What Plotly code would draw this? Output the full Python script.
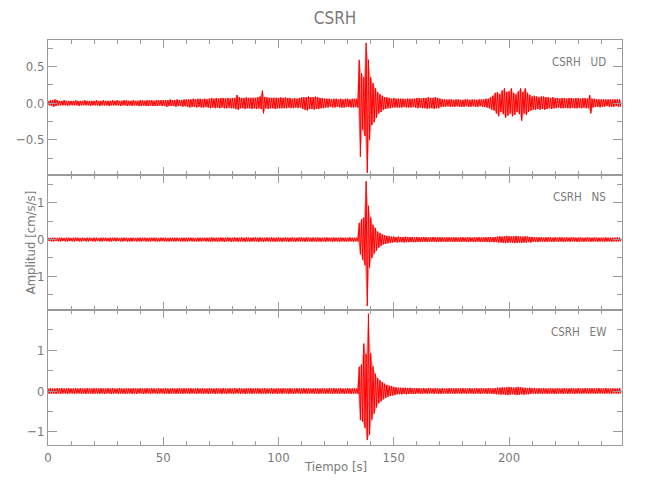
import numpy as np
import plotly.graph_objects as go
from plotly.subplots import make_subplots

# Seismogram envelopes, one value per second (t = 0..248 s),
# in hundredths of cm/s/s: positive peak (up) and negative peak (dn) within each second.
seconds = list(range(249))

ud_up = [3,4,4,5,4,3,3,4,3,3, 3,3,4,3,3,3,4,3,3,3, 3,4,3,3,4,3,3,3,4,3, 4,3,3,4,4,3,3,4,3,3,
         4,4,3,4,4,4,3,4,4,4, 4,4,4,5,4,4,5,4,4,5, 5,5,5,6,5,6,6,5,6,5, 6,7,6,7,6,7,7,6,7,6,
         7,7,11,8,7,7,8,7,7,7, 7,8,9,17,8,8,7,7,7,7, 7,8,7,8,7,7,6,7,6,7, 8,8,8,9,8,8,9,8,7,7,
         6,6,6,5,6,6,5,6,5,6, 6,5,6,6,6,59,41,35,82,59, 35,27,20,15,12,10,8,8,7,6,
         7,6,6,6,6,5,6,6,6,6, 7,7,6,7,7,8,7,7,8,7, 6,5,5,5,5,5,4,5,5,4, 4,5,5,4,5,5,4,5,5,5,
         6,6,8,10,14,15,12,17,20,15, 16,20,14,12,16,20,15,20,14,11, 9,10,9,8,9,9,8,8,7,8,
         7,7,6,7,7,6,7,7,6,7, 7,6,7,7,6,11,6,6,5,5, 5,5,5,5,5,5,5,5,5]
ud_dn = [3,4,5,4,3,3,3,3,4,3, 3,3,3,4,3,3,3,3,4,3, 3,3,4,3,3,3,4,3,3,3, 3,4,3,3,4,3,4,3,3,4,
         4,3,4,4,3,4,4,4,3,4, 4,5,4,4,4,5,4,4,5,4, 5,6,5,5,6,5,6,6,5,6, 7,6,7,6,7,6,7,7,6,7,
         7,8,9,7,7,8,7,7,8,7, 8,7,8,14,7,8,7,7,8,7, 7,7,7,7,6,7,7,6,7,6, 8,9,10,8,8,9,8,8,7,7,
         6,6,5,6,6,5,6,6,6,5, 5,6,6,5,6,73,36,45,95,50, 30,26,20,14,12,9,8,7,7,6,
         6,6,6,6,5,6,6,6,5,6, 7,6,7,7,8,7,7,8,7,7, 5,5,5,4,5,5,5,4,5,5, 5,4,5,5,4,5,5,4,5,5,
         6,7,9,10,14,18,12,15,20,17, 14,18,16,12,15,24,14,16,12,10, 9,9,8,9,8,9,8,7,8,7,
         7,6,7,7,6,7,7,6,7,7, 6,7,6,7,7,14,6,5,5,6, 5,5,4,5,5,5,4,5,5]

ns_up = [5,4,5,5,4,5,5,4,5,5, 4,5,5,5,4,5,4,5,5,4, 5,5,4,5,5,5,4,5,5,5, 5,4,5,5,5,4,5,5,4,5,
         5,5,5,4,5,5,5,5,4,5, 5,5,4,5,5,5,5,4,5,5, 5,5,5,5,4,5,5,5,5,5, 5,6,5,5,5,6,5,5,6,5,
         5,6,5,5,6,5,6,5,5,6, 6,5,6,5,5,6,5,6,5,5, 6,5,5,6,5,5,6,5,5,6, 6,5,6,6,5,6,5,6,5,5,
         5,6,5,5,6,5,5,6,5,5, 5,6,5,5,5,45,55,60,159,92, 60,40,32,22,18,14,12,10,9,8,
         8,7,8,7,7,8,7,7,7,6, 7,6,6,7,6,6,6,7,6,6, 6,6,5,6,6,5,6,6,5,6, 6,5,6,6,5,6,6,6,5,6,
         6,6,7,6,7,8,9,8,9,10, 9,8,9,10,9,8,8,9,8,7, 7,6,6,6,6,5,6,6,6,5,
         6,5,6,6,5,6,5,6,6,5, 5,6,5,5,6,5,5,6,5,5, 5,5,6,5,5,5,5,6,5]
ns_dn = [4,5,5,4,5,5,4,5,5,4, 5,5,4,5,5,4,5,5,4,5, 5,4,5,5,4,5,5,5,4,5, 4,5,5,4,5,5,5,4,5,5,
         5,4,5,5,5,4,5,5,5,4, 5,5,5,4,5,5,4,5,5,5, 5,4,5,5,5,5,5,4,5,5, 6,5,5,6,5,5,6,5,5,6,
         5,5,6,5,5,6,5,6,5,5, 5,6,5,6,5,5,6,5,6,5, 5,6,5,5,6,5,5,6,5,5, 5,6,5,5,6,5,6,5,6,5,
         6,5,5,6,5,5,6,5,5,6, 5,5,6,5,5,40,55,70,181,76, 50,38,30,22,17,13,12,10,9,8,
         7,8,7,7,8,7,7,6,7,7, 6,7,6,6,7,6,6,6,7,6, 6,5,6,6,5,6,6,5,6,6, 5,6,6,5,6,6,5,6,6,6,
         6,7,6,7,7,8,8,9,10,9, 8,9,10,9,8,9,8,8,7,8, 6,6,7,6,5,6,6,5,6,6,
         5,6,5,6,6,5,6,5,5,6, 6,5,6,5,5,6,5,5,6,5, 5,6,5,5,6,5,5,5,5]

ew_up = [6,7,6,6,7,6,7,6,6,7, 6,6,7,6,7,6,6,7,6,6, 7,6,6,7,6,6,7,6,7,6, 6,7,6,6,7,6,6,7,6,6,
         7,6,6,7,6,7,6,6,7,6, 6,7,6,6,7,6,6,7,6,7, 6,6,7,6,6,7,6,7,6,6, 7,6,6,7,6,6,7,6,6,7,
         6,7,6,7,6,6,7,6,7,6, 6,7,6,6,7,6,6,7,6,6, 7,6,7,6,6,7,6,6,7,6, 6,7,6,7,6,6,7,6,6,7,
         6,6,7,6,7,6,6,7,6,6, 7,6,6,7,6,59,65,116,90,189, 92,60,42,32,26,22,18,15,13,12,
         10,9,8,8,8,8,7,8,7,7, 7,7,6,7,6,7,7,6,7,6, 6,7,6,6,7,6,6,7,6,6, 7,6,6,7,6,6,7,6,7,6,
         6,7,7,6,7,8,8,9,8,9, 10,9,8,9,10,9,8,8,7,8, 7,7,6,7,6,7,6,6,7,6,
         6,7,6,6,7,6,6,7,6,6, 7,6,6,7,6,6,7,6,6,7, 6,6,7,6,6,7,6,6,7]
ew_dn = [7,6,6,7,6,7,6,6,7,6, 6,7,6,6,7,6,7,6,6,7, 6,6,7,6,7,6,6,7,6,6, 7,6,6,7,6,6,7,6,7,6,
         6,7,6,6,7,6,6,7,6,6, 7,6,7,6,6,7,6,6,7,6, 6,7,6,6,7,6,6,7,6,7, 6,6,7,6,6,7,6,7,6,6,
         7,6,6,7,6,7,6,6,7,6, 6,6,7,6,7,6,6,7,6,7, 6,7,6,6,7,6,7,6,6,7, 6,6,7,6,6,7,6,7,6,6,
         7,6,6,7,6,6,7,6,7,6, 6,7,6,6,7,71,75,90,120,107, 70,55,40,30,25,20,17,14,12,11,
         10,8,8,8,7,8,7,7,7,7, 6,7,7,6,7,6,6,7,6,7, 7,6,6,7,6,6,7,6,6,7, 6,7,6,6,7,6,6,7,6,6,
         7,6,7,7,8,8,9,8,9,10, 9,8,9,10,9,8,9,8,8,7, 6,7,7,6,7,6,7,6,6,7,
         7,6,6,7,6,7,6,6,7,6, 6,7,6,6,7,6,6,7,6,6, 6,7,6,6,7,6,6,7,6]

channels = ["UD", "NS", "EW"]
station = "CSRH"
y_ranges = [[-0.98, 0.86], [-1.92, 1.76], [-1.32, 1.98]]
y_ticks = [[-0.5, 0.0, 0.5], [-1, 0, 1], [-1, 0, 1]]
y_ticktext = [["\u22120.5", "0.0", "0.5"], ["\u22121", "0", "1"], ["\u22121", "0", "1"]]
y_minor = [0.25, 0.5, 0.5]
x_range = [0, 249]

envelopes = [(ud_up, ud_dn), (ns_up, ns_dn), (ew_up, ew_dn)]

FONT = "DejaVu Sans Condensed, Liberation Sans Narrow, sans-serif"
TXT = "#7a7a7a"
AX = "#9a9a9a"

fig = make_subplots(rows=3, cols=1, shared_xaxes=True, vertical_spacing=0)

t = np.asarray(seconds, dtype=float)
for i, (up, dn) in enumerate(envelopes):
    up = np.asarray(up, dtype=float) / 100.0
    dn = np.asarray(dn, dtype=float) / 100.0
    # translucent band between the per-second peaks
    fig.add_trace(go.Scatter(x=t, y=up, mode="lines", line=dict(width=0, color="rgba(255,0,0,0)"),
                             showlegend=False, hoverinfo="skip"), row=i + 1, col=1)
    fig.add_trace(go.Scatter(x=t + 0.5, y=-dn, mode="lines", line=dict(width=0, color="rgba(255,0,0,0)"),
                             fill="tonexty", fillcolor="rgba(255,0,0,0.4)",
                             showlegend=False, hoverinfo="skip"), row=i + 1, col=1)
    # the oscillating trace itself
    xs = np.empty(2 * len(t))
    ys = np.empty(2 * len(t))
    xs[0::2] = t
    xs[1::2] = t + 0.5
    ys[0::2] = up
    ys[1::2] = -dn
    fig.add_trace(go.Scatter(x=xs, y=ys, mode="lines",
                             line=dict(color="#ff0000", width=1),
                             showlegend=False, hoverinfo="skip"),
                  row=i + 1, col=1)

for i in range(3):
    fig.update_xaxes(range=x_range, dtick=50, tick0=0, ticks="inside", ticklen=8,
                     tickcolor=AX, showline=True, linecolor=AX, linewidth=1,
                     mirror="allticks", showgrid=False, zeroline=False,
                     minor=dict(dtick=10, ticks="inside", ticklen=4, tickcolor=AX, showgrid=False),
                     showticklabels=(i == 2), automargin=False,
                     tickfont=dict(family=FONT, size=13, color=TXT),
                     row=i + 1, col=1)
    fig.update_yaxes(range=y_ranges[i], tickvals=y_ticks[i], ticktext=y_ticktext[i],
                     ticks="inside", ticklen=9, tickcolor=AX, showline=True, linecolor=AX,
                     linewidth=1, mirror="allticks", showgrid=False, zeroline=False,
                     minor=dict(dtick=y_minor[i], ticks="inside", ticklen=5, tickcolor=AX,
                                showgrid=False),
                     automargin=False,
                     tickfont=dict(family=FONT, size=13, color=TXT),
                     row=i + 1, col=1)

annotations = []
for i, ch in enumerate(channels):
    yref = "y domain" if i == 0 else f"y{i + 1} domain"
    annotations.append(dict(text=f"{station}\u00a0\u00a0\u00a0{ch}", xref="paper", yref=yref,
                            x=0.975, y=0.837, xanchor="right", yanchor="middle",
                            showarrow=False, font=dict(family=FONT, size=11.5, color=TXT)))
annotations.append(dict(text="Amplitud [cm/s/s]", xref="paper", yref="paper",
                        x=-0.03, y=0.5, xanchor="center", yanchor="middle", textangle=-90,
                        showarrow=False, font=dict(family=FONT, size=13, color=TXT)))
annotations.append(dict(text="Tiempo [s]", xref="paper", yref="paper",
                        x=0.5, y=0, yshift=-21, xanchor="center", yanchor="middle",
                        showarrow=False, font=dict(family=FONT, size=13, color=TXT)))

fig.update_layout(
    width=650, height=500,
    margin=dict(l=48, r=28, t=40, b=55),
    paper_bgcolor="white", plot_bgcolor="white",
    title=dict(text=station, x=0.5, xref="paper", y=1 - 18 / 500, yanchor="middle",
               font=dict(family=FONT, size=17, color=TXT)),
    annotations=annotations,
    showlegend=False,
)

fig.write_html("out.html", config={"displayModeBar": False},
               post_script="document.body.style.margin='0px';")
